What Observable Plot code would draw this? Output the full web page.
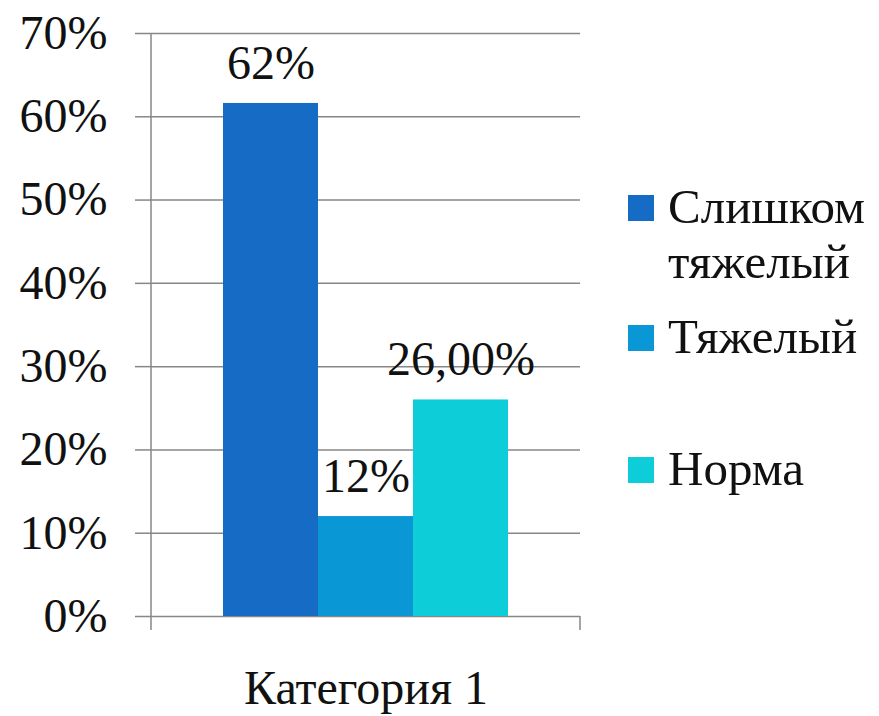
<!DOCTYPE html>
<html>
<head>
<meta charset="utf-8">
<script src="https://cdn.jsdelivr.net/npm/d3@7"></script>
<script src="https://cdn.jsdelivr.net/npm/@observablehq/plot@0.6"></script>
<style>
  html, body { margin: 0; padding: 0; background: #fff; }
  #wrap { position: relative; width: 879px; height: 716px; font-family: "Liberation Serif", serif; }
  #legend { position: absolute; left: 628px; top: 179px; display: flex; flex-direction: column;
            font-size: 49px; line-height: 55px; color: #111; }
  .item { display: flex; align-items: flex-start; }
  .sw { width: 26px; height: 26px; margin-top: 16px; margin-right: 14px; flex: none; }
</style>
</head>
<body>
<div id="wrap"></div>
<script>
const categories = ["Категория 1"];
const series = ["Слишком тяжелый", "Тяжелый", "Норма"];
const legendLines = [["Слишком", "тяжелый"], ["Тяжелый"], ["Норма"]];
const values = [0.616, 0.12, 0.26];
const valueLabels = ["62%", "12%", "26,00%"];
const colors = ["#166BC4", "#0A97D5", "#0CCDD8"];
const yTicks = [0, 0.1, 0.2, 0.3, 0.4, 0.5, 0.6, 0.7];
const legendGaps = [0, 20, 77];

const data = series.map((s, i) => ({category: categories[0], series: s, value: values[i], label: valueLabels[i]}));
const gridColor = "#878787";

const axisLines = (index, scales, values, dims) => {
  const ns = "http://www.w3.org/2000/svg";
  const g = document.createElementNS(ns, "g");
  const x0 = dims.marginLeft, x1 = dims.width - dims.marginRight;
  const yt = dims.marginTop, yb = dims.height - dims.marginBottom;
  const segs = [[x0, yt, x0, yb + 14], [x1, yb, x1, yb + 14]];
  for (const [a, b, c, d] of segs) {
    const l = document.createElementNS(ns, "line");
    l.setAttribute("x1", a); l.setAttribute("y1", b);
    l.setAttribute("x2", c); l.setAttribute("y2", d);
    l.setAttribute("stroke", gridColor); l.setAttribute("stroke-width", 1.5);
    g.appendChild(l);
  }
  return g;
};

const chart = Plot.plot({
  width: 879,
  height: 716,
  marginLeft: 151,
  marginRight: 299,
  marginTop: 33,
  marginBottom: 100,
  style: {fontFamily: "Liberation Serif", color: "#111", background: "transparent"},
  fx: {domain: categories, padding: 0, label: null},
  x: {domain: series, paddingInner: 0, paddingOuter: 0.75, axis: null},
  y: {domain: [0, 0.7], label: null},
  color: {domain: series, range: colors},
  marks: [
    Plot.gridY(yTicks, {stroke: gridColor, strokeOpacity: 1, strokeWidth: 1.5}),
    Plot.axisY(yTicks, {anchor: "left", tickSize: 16, tickPadding: 28, fontSize: 48,
      tickFormat: d => Math.round(d * 100) + "%", stroke: gridColor, strokeWidth: 1.5, strokeOpacity: 1, label: null}),
    Plot.axisFx({anchor: "bottom", tickSize: 0, tickPadding: 53, fontSize: 48, label: null}),
    Plot.barY(data, {fx: "category", x: "series", y: "value", fill: "series"}),
    Plot.text(data, {fx: "category", x: "series", y: "value", text: "label", fontSize: 48, dy: -40, fill: "#111"}),
    axisLines
  ]
});

const wrap = document.getElementById("wrap");
wrap.appendChild(chart);

const legend = document.createElement("div");
legend.id = "legend";
series.forEach((s, i) => {
  const item = document.createElement("div");
  item.className = "item";
  item.style.marginTop = legendGaps[i] + "px";
  const sw = document.createElement("div");
  sw.className = "sw";
  sw.style.background = colors[i];
  const txt = document.createElement("div");
  txt.innerHTML = legendLines[i].join("<br>");
  item.appendChild(sw);
  item.appendChild(txt);
  legend.appendChild(item);
});
wrap.appendChild(legend);
</script>
</body>
</html>
